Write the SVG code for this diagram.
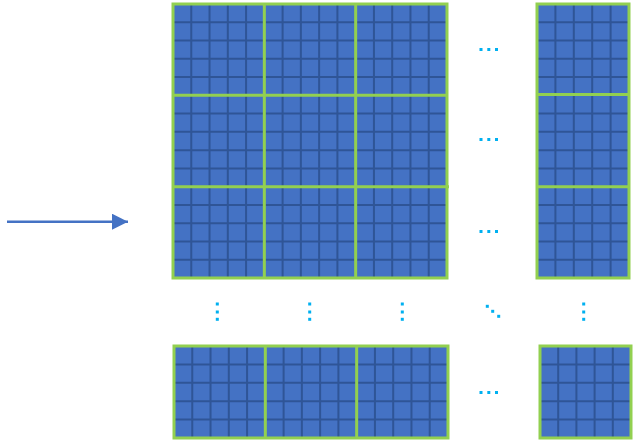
<svg xmlns="http://www.w3.org/2000/svg" width="634" height="444" viewBox="0 0 634 444">
<style>
.cell{fill:#4472C4}
.grid{stroke:#2F5597;stroke-width:2;fill:none}
.blk{stroke:#92D050;stroke-width:3;fill:none}
.dot{fill:#00B0F0}
.arrow{stroke:#4472C4;stroke-width:2.5;fill:none}
</style>
<defs>
<marker id="ah" markerUnits="userSpaceOnUse" markerWidth="16" markerHeight="16" refX="16" refY="8" orient="auto">
<path d="M0,0 L16,8 L0,16 Z" fill="#4472C4"/>
</marker>
</defs>
<rect width="634" height="444" fill="#FFFFFF"/>

<g id="matrix-main">
<rect class="cell" x="173" y="4" width="274" height="274"/>
<path class="grid" d="M191.27 4V278M209.53 4V278M227.8 4V278M246.07 4V278M282.6 4V278M300.87 4V278M319.13 4V278M337.4 4V278M373.93 4V278M392.2 4V278M410.47 4V278M428.73 4V278
M173 22.27H447M173 40.53H447M173 58.8H447M173 77.07H447M173 113.6H447M173 131.87H447M173 150.13H447M173 168.4H447M173 204.93H447M173 223.2H447M173 241.47H447M173 259.73H447"/>
<path class="blk" d="M173 4H447V278H173Z M264.33 4V278 M355.67 4V278 M173 95.33H448 M173 186.67H449"/>
</g>

<g id="matrix-right">
<rect class="cell" x="537" y="4" width="92" height="274"/>
<path class="grid" d="M555.4 4V278M573.8 4V278M592.2 4V278M610.6 4V278
M537 22.27H629M537 40.53H629M537 58.8H629M537 77.07H629M537 113.6H629M537 131.87H629M537 150.13H629M537 168.4H629M537 204.93H629M537 223.2H629M537 241.47H629M537 259.73H629"/>
<path class="blk" d="M537 4H629V278H537Z M537 94.5H629 M537 186.67H629"/>
</g>

<g id="matrix-bottom">
<rect class="cell" x="174" y="346" width="274" height="92"/>
<path class="grid" d="M192.27 346V438M210.53 346V438M228.8 346V438M247.07 346V438M283.6 346V438M301.87 346V438M320.13 346V438M338.4 346V438M374.93 346V438M393.2 346V438M411.47 346V438M429.73 346V438
M174 364.4H448M174 382.8H448M174 401.2H448M174 419.6H448"/>
<path class="blk" d="M174 346H448V438H174Z M265.33 346V438 M356.67 346V438"/>
</g>

<g id="matrix-corner">
<rect class="cell" x="540" y="346" width="91" height="92"/>
<path class="grid" d="M558.2 346V438M576.4 346V438M594.6 346V438M612.8 346V438
M540 364.4H631M540 382.8H631M540 401.2H631M540 419.6H631"/>
<path class="blk" d="M540 346H631V438H540Z"/>
</g>

<g id="ellipsis">
<rect class="dot" x="479.5" y="48" width="3" height="3"/><rect class="dot" x="487.3" y="48" width="3" height="3"/><rect class="dot" x="495" y="48" width="3" height="3"/>
<rect class="dot" x="479.5" y="138" width="3" height="3"/><rect class="dot" x="487.3" y="138" width="3" height="3"/><rect class="dot" x="495" y="138" width="3" height="3"/>
<rect class="dot" x="479.5" y="230" width="3" height="3"/><rect class="dot" x="487.3" y="230" width="3" height="3"/><rect class="dot" x="495" y="230" width="3" height="3"/>
<rect class="dot" x="479.5" y="391" width="3" height="3"/><rect class="dot" x="487.3" y="391" width="3" height="3"/><rect class="dot" x="495" y="391" width="3" height="3"/>
<rect class="dot" x="215.8" y="302.5" width="3" height="3"/><rect class="dot" x="215.8" y="310.5" width="3" height="3"/><rect class="dot" x="215.8" y="317.8" width="3" height="3"/>
<rect class="dot" x="308.2" y="302.5" width="3" height="3"/><rect class="dot" x="308.2" y="310.5" width="3" height="3"/><rect class="dot" x="308.2" y="317.8" width="3" height="3"/>
<rect class="dot" x="400.8" y="302.5" width="3" height="3"/><rect class="dot" x="400.8" y="310.5" width="3" height="3"/><rect class="dot" x="400.8" y="317.8" width="3" height="3"/>
<rect class="dot" x="582.2" y="302.5" width="3" height="3"/><rect class="dot" x="582.2" y="310.5" width="3" height="3"/><rect class="dot" x="582.2" y="317.8" width="3" height="3"/>
<rect class="dot" x="485.8" y="304.8" width="3" height="3"/><rect class="dot" x="491.2" y="309.8" width="3" height="3"/><rect class="dot" x="497.2" y="314.8" width="3" height="3"/>
</g>

<g id="connectors">
<path class="arrow" d="M7 221.7H128" marker-end="url(#ah)"/>
</g>
</svg>
